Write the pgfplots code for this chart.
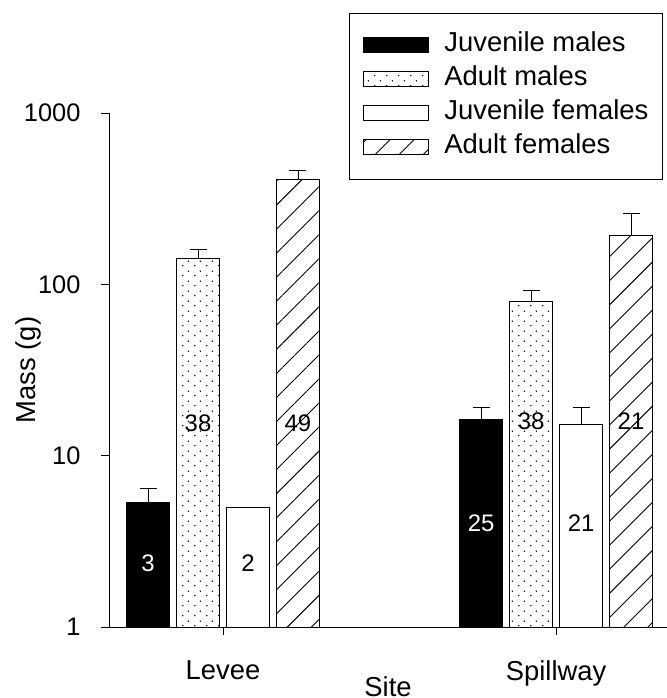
\documentclass[border=0pt]{standalone}
\usepackage{fontspec}
\setmainfont{Liberation Sans}
\usepackage{pgfplots}
\pgfplotsset{compat=1.18}
\usetikzlibrary{patterns,patterns.meta}

\tikzdeclarepattern{
  name=sparsedots,
  bottom left={(0bp,0bp)},
  top right={(12bp,10bp)},
  tile size={(12bp,10bp)},
  code={
    \fill (3bp,2.5bp) circle (0.85bp);
    \fill (9bp,7.5bp) circle (0.85bp);
  }
}

\newcommand{\bigfont}{\fontsize{27.5}{33}\selectfont}

\begin{document}
\begin{tikzpicture}
\useasboundingbox (-109bp,-71bp) rectangle (558bp,627bp);
\begin{axis}[
    at={(0,0)}, anchor=south west,
    scale only axis,
    width=558bp, height=514bp,
    xmin=-0.3423, xmax=1.333,
    ymode=log, ymin=1, ymax=1000,
    axis x line*=bottom, axis y line*=left,
    axis line style={-, line width=0.9bp},
    tick style={line width=0.9bp, black},
    tick align=outside,
    major tick length=8bp,
    yminorticks=false,
    xtick={0,1}, xticklabels={Levee,Spillway},
    ytick={1,10,100,1000}, yticklabels={1,10,100,1000},
    /pgf/number format/assume math mode=true,
    xticklabel style={font=\bigfont, inner sep=0pt, anchor=north, yshift=-26bp},
    yticklabel style={font=\fontsize{25.5}{30}\selectfont, xshift=-17bp},
    xlabel={Site},
    xlabel style={font=\bigfont, at={(axis description cs:0.5,0)}, anchor=base, yshift=-69bp},
    ylabel={Mass (g)},
    ylabel style={font=\bigfont, at={(axis description cs:-0.145,0.5)}, anchor=center},
    error bars/y dir=plus,
    error bars/y explicit,
    error bars/error bar style={line width=0.9bp, black},
    error bars/error mark options={rotate=90, mark size=8.5bp, line width=0.9bp, black},
    legend style={at={(0.430,1.195)}, anchor=north west,
        draw=black, line width=1.1bp,
        font=\bigfont, row sep=0pt,
        inner xsep=14bp, inner ysep=15bp,
        nodes={inner xsep=0pt, inner ysep=2bp, text height=21bp, text depth=9bp},
        /tikz/every odd column/.append style={column sep=15bp}},
    legend cell align=left,
    legend image code/.code={\draw[#1, line width=0.9bp] (0bp,-7.5bp) rectangle (65bp,7.5bp);},
    every axis plot/.append style={ybar, bar width=0.129, bar shift=0, draw=black, line width=0.9bp},
]
% bars: x = bar position (Levee at 0, Spillway at 1), y = mean, e = upper error
\addplot[fill=black] table[x=x, y=y, y error=e] {
x y e
-0.225 5.3 1.1
0.775 16.2 2.8
};
\addlegendentry{Juvenile males}
\addplot[fill=white, pattern=sparsedots] table[x=x, y=y, y error=e] {
x y e
-0.075 142 17
0.925 79 12.5
};
\addlegendentry{Adult males}
\addplot[fill=white] table[x=x, y=y, y error=e] {
x y e
0.075 5.0 0
1.075 15.3 3.7
};
\addlegendentry{Juvenile females}
\addplot[pattern={Lines[angle=45, distance=17bp, line width=0.9bp]}] table[x=x, y=y, y error=e] {
x y e
0.225 407 58
1.225 192 66
};
\addlegendentry{Adult females}

% sample sizes inside bars
\addplot[forget plot, sharp plot, draw=none, mark=none, nodes near coords, point meta=explicit symbolic,
    every node near coord/.append style={anchor=center, font=\fontsize{24}{28}\selectfont, text=white}]
    table[x=x, y=y, meta=n] {
x y n
-0.225 2.36 3
0.775 4.05 25
};
\addplot[forget plot, sharp plot, draw=none, mark=none, nodes near coords, point meta=explicit symbolic,
    every node near coord/.append style={anchor=center, font=\fontsize{24}{28}\selectfont, text=black}]
    table[x=x, y=y, meta=n] {
x y n
-0.075 15.5 38
0.225 15.5 49
0.075 2.36 2
0.925 15.8 38
1.075 4.05 21
1.225 15.8 21
};
\end{axis}
\end{tikzpicture}
\end{document}
